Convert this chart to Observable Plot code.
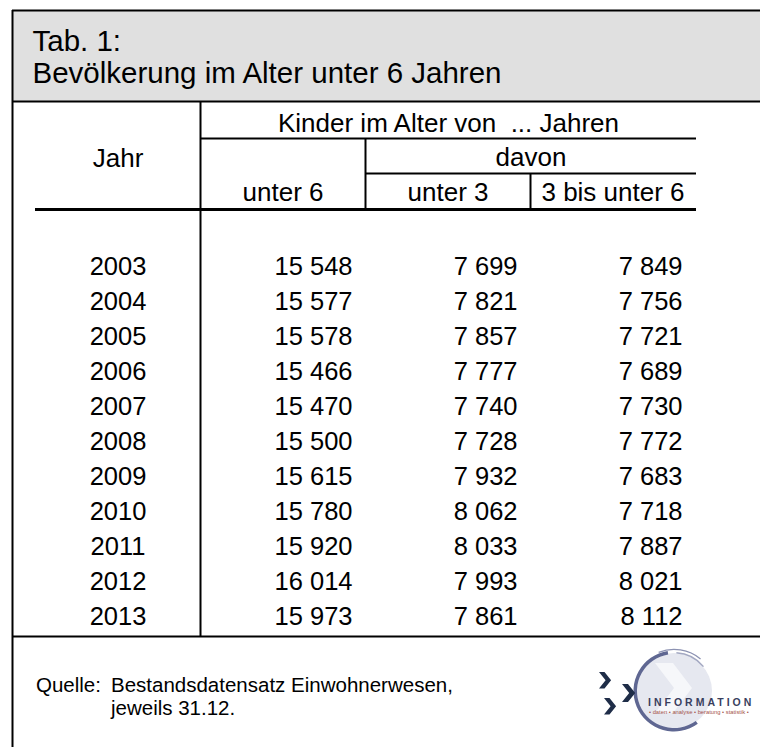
<!DOCTYPE html>
<html>
<head>
<meta charset="utf-8">
<script src="https://cdn.jsdelivr.net/npm/d3@7"></script>
<script src="https://cdn.jsdelivr.net/npm/@observablehq/plot@0.6"></script>
<style>
  html, body { margin: 0; padding: 0; background: #fff; }
  #wrap { position: relative; width: 760px; height: 747px; overflow: hidden; }
  #wrap svg { display: block; }
  #logo { position: absolute; left: 0; top: 0; }
</style>
</head>
<body>
<div id="wrap"></div>
<script>
(function () {
// ---- data ----
const titleLines = ["Tab. 1:", "Bevölkerung im Alter unter 6 Jahren"];
const groupHeader = "Kinder im Alter von\u00a0 ... Jahren";
const subGroupHeader = "davon";
const yearHeader = "Jahr";
const columns = ["unter 6", "unter 3", "3 bis unter 6"];
const years = [2003, 2004, 2005, 2006, 2007, 2008, 2009, 2010, 2011, 2012, 2013];
const unter6 = [15548, 15577, 15578, 15466, 15470, 15500, 15615, 15780, 15920, 16014, 15973];
const unter3 = [7699, 7821, 7857, 7777, 7740, 7728, 7932, 8062, 8033, 7993, 7861];
const bis6 = [7849, 7756, 7721, 7689, 7730, 7772, 7683, 7718, 7887, 8021, 8112];
const sourceLabel = "Quelle:";
const sourceLines = ["Bestandsdatensatz Einwohnerwesen,", "jeweils 31.12."];
const logoWord = "INFORMATION";
const logoTag = "• daten • analyse • beratung • statistik •";

// ---- layout ----
const W = 760, H = 747;
const FONT = "'Liberation Sans', Arial, Helvetica, sans-serif";
const colX = d3.scaleBand().domain([yearHeader, ...columns]).range([35, 695]).paddingInner(0).paddingOuter(0);
const bw = colX.bandwidth();
const rowY = d3.scaleLinear().domain([0, 1]).range([274, 309]); // baseline of row i
const fmt = v => d3.format(",")(v).replace(/,/g, "\u00a0");

const bLeft = 12, bTop = 10, bandBottom = 101, tableBottom = 636;
const xCol1 = colX(columns[0]), xCol2 = colX(columns[1]), xCol3 = colX(columns[2]), xEnd = xCol3 + bw + 1;
const yKinder = 138, yDavon = 173, yHead = 209;

const rows = years.map((y, i) => ({year: y, i, v: [unter6[i], unter3[i], bis6[i]]}));
const cells = rows.flatMap(r => r.v.map((v, j) => ({
  x: colX(columns[j]) + bw - 13, y: rowY(r.i), t: fmt(v)
})));

const hThin = [
  {x1: bLeft, x2: W, y: bTop},
  {x1: bLeft, x2: W, y: bandBottom},
  {x1: xCol1, x2: xEnd, y: yKinder},
  {x1: xCol2, x2: xEnd, y: yDavon},
  {x1: bLeft, x2: W, y: tableBottom}
];
const hThick = [{x1: colX(yearHeader), x2: xEnd, y: yHead}];
const vLines = [
  {x: bLeft, y1: bTop, y2: H},
  {x: xCol1, y1: bandBottom, y2: tableBottom},
  {x: xCol2, y1: yKinder, y2: yHead},
  {x: xCol3, y1: yDavon, y2: yHead}
];

const headerTexts = [
  {x: xCol1 + (xEnd - xCol1) / 2, y: 131, t: groupHeader},
  {x: xCol2 + (xEnd - xCol2) / 2, y: 165, t: subGroupHeader},
  {x: colX(yearHeader) + bw / 2, y: 166, t: yearHeader},
  ...columns.map(c => ({x: colX(c) + bw / 2, y: 200, t: c}))
];

const chart = Plot.plot({
  width: W, height: H, margin: 0,
  x: {domain: [0, W], range: [0, W], axis: null},
  y: {domain: [0, H], range: [0, H], axis: null},
  style: {fontFamily: FONT, background: "#fff", color: "#000"},
  marks: [
    Plot.rect([{x1: bLeft, x2: W, y1: bTop, y2: bandBottom}], {x1: "x1", x2: "x2", y1: "y1", y2: "y2", fill: "#e0e0e0"}),
    Plot.ruleY(hThin, {y: "y", x1: "x1", x2: "x2", stroke: "#000", strokeWidth: 2}),
    Plot.ruleY(hThick, {y: "y", x1: "x1", x2: "x2", stroke: "#000", strokeWidth: 3}),
    Plot.ruleX(vLines, {x: "x", y1: "y1", y2: "y2", stroke: "#000", strokeWidth: 2}),
    Plot.text(titleLines, {x: () => 32, y: (d, i) => 50 + i * 32, text: d => d, textAnchor: "start", lineAnchor: "bottom", fontSize: 29.5, fill: "#000"}),
    Plot.text(headerTexts, {x: "x", y: "y", text: "t", textAnchor: "middle", lineAnchor: "bottom", fontSize: 26, fill: "#000"}),
    Plot.text(rows, {x: () => colX(yearHeader) + bw / 2, y: d => rowY(d.i), text: d => String(d.year), textAnchor: "middle", lineAnchor: "bottom", fontSize: 25.5, fill: "#000"}),
    Plot.text(cells, {x: "x", y: "y", text: "t", textAnchor: "end", lineAnchor: "bottom", fontSize: 25.5, fill: "#000"}),
    Plot.text([sourceLabel], {x: () => 35.5, y: () => 691, text: d => d, textAnchor: "start", lineAnchor: "bottom", fontSize: 20.5, fill: "#000"}),
    Plot.text(sourceLines, {x: () => 110.5, y: (d, i) => 691 + i * 23, text: d => d, textAnchor: "start", lineAnchor: "bottom", fontSize: 20.5, fill: "#000"})
  ]
});
document.getElementById("wrap").appendChild(chart);

// ---- logo (decorative) ----
const logo = d3.select("#wrap").append("svg").attr("id", "logo").attr("width", W).attr("height", H);
const cx = 674, cy = 691, r = 38;
logo.append("circle").attr("cx", cx).attr("cy", cy).attr("r", r).attr("fill", "#e6e8f0");
const arc = d3.arc();
logo.append("path").attr("transform", `translate(${cx},${cy})`)
  .attr("d", arc({innerRadius: r - 1, outerRadius: r + 2.5, startAngle: Math.PI * 0.8, endAngle: Math.PI * 1.95}))
  .attr("fill", "#5f6792");
logo.append("path").attr("transform", `translate(${cx},${cy})`)
  .attr("d", arc({innerRadius: r + 3, outerRadius: r + 4.3, startAngle: Math.PI * 1.88, endAngle: Math.PI * 2.22}))
  .attr("fill", "#8c92b2");
logo.append("path").attr("transform", `translate(${cx},${cy})`)
  .attr("d", arc({innerRadius: r - 0.5, outerRadius: r + 1, startAngle: Math.PI * 0.02, endAngle: Math.PI * 0.28}))
  .attr("fill", "#a3a8c2");
logo.append("path").attr("d", "M655,663 L673,663 L692,688 L673,713 L655,713 L674,688 Z").attr("fill", "#f6f7fa");
const chev = (x, y, s) => `M${x},${y} L${x + 5 * s},${y} L${x + 11 * s},${y + 7.5 * s} L${x + 5 * s},${y + 15 * s} L${x},${y + 15 * s} L${x + 6 * s},${y + 7.5 * s} Z`;
logo.append("path").attr("d", chev(599, 672, 1.1)).attr("fill", "#1f2d48");
logo.append("path").attr("d", chev(622, 684, 1.2)).attr("fill", "#1f2d48");
logo.append("path").attr("d", chev(604, 698, 1.1)).attr("fill", "#1f2d48");
logo.append("text").attr("x", 648).attr("y", 706).attr("font-family", FONT).attr("font-size", 10.5).attr("font-weight", "bold")
  .attr("letter-spacing", 3.0).attr("fill", "#3a3f5e").text(logoWord);
logo.append("text").attr("x", 649).attr("y", 714).attr("font-family", FONT).attr("font-size", 5.8)
  .attr("fill", "#a4524a").text(logoTag);
})();
</script>
</body>
</html>
